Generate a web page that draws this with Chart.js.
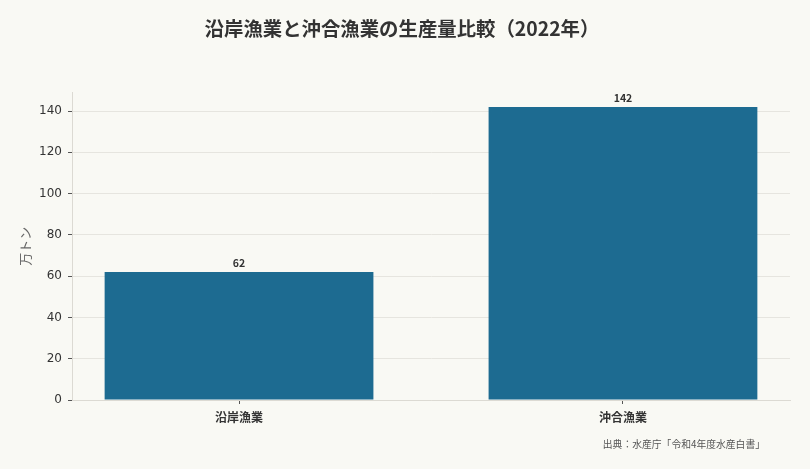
<!DOCTYPE html>
<html lang="ja">
<head>
<meta charset="utf-8">
<title>沿岸漁業と沖合漁業の生産量比較（2022年）</title>
<script src="https://cdn.jsdelivr.net/npm/chart.js@4"></script>
<style>
  html, body { margin: 0; padding: 0; background: #f9f9f4; }
  #wrap { width: 810px; height: 469px; }
</style>
</head>
<body>
<div id="wrap"><canvas id="chart"></canvas></div>
<script>
// 生産量（万トン）
const categories = ['沿岸漁業', '沖合漁業'];
const production = [62, 142];
const yTicks = [0, 20, 40, 60, 80, 100, 120, 140];

const JP = '"Noto Sans CJK JP", "DejaVu Sans", sans-serif';

// background + value labels + source note
const decorations = {
  id: 'decorations',
  beforeDraw(chart) {
    const ctx = chart.ctx;
    ctx.save();
    ctx.fillStyle = '#f9f9f4';
    ctx.fillRect(0, 0, chart.width, chart.height);
    ctx.restore();
  },
  afterDatasetsDraw(chart) {
    const ctx = chart.ctx;
    const meta = chart.getDatasetMeta(0);
    ctx.save();
    ctx.font = 'bold 10.5px ' + JP;
    ctx.fillStyle = '#333333';
    ctx.textAlign = 'center';
    ctx.textBaseline = 'bottom';
    meta.data.forEach((bar, i) => {
      ctx.fillText(String(production[i]), bar.x, bar.y - 4);
    });
    ctx.font = '9.8px ' + JP;
    ctx.fillStyle = '#555555';
    ctx.textAlign = 'right';
    ctx.textBaseline = 'middle';
    ctx.fillText('出典：水産庁「令和4年度水産白書」', chart.chartArea.right - 25, 444);
    ctx.restore();
  }
};

new Chart(document.getElementById('chart'), {
  type: 'bar',
  data: {
    datasets: [{
      data: production.map((v, i) => ({ x: i, y: v })),
      backgroundColor: '#1d6b91',
      borderWidth: 0,
      barPercentage: 0.7,
      categoryPercentage: 1.0
    }]
  },
  options: {
    responsive: true,
    maintainAspectRatio: false,
    animation: false,
    layout: { padding: { top: 0, left: 14, right: 20, bottom: 0 } },
    plugins: {
      legend: { display: false },
      tooltip: { enabled: false },
      title: {
        display: true,
        text: '沿岸漁業と沖合漁業の生産量比較（2022年）',
        color: '#333333',
        font: { family: JP, size: 19.4, weight: 'bold' },
        padding: { top: 17, bottom: 52 }
      }
    },
    scales: {
      x: {
        type: 'linear',
        offset: false,
        min: -0.435,
        max: 1.435,
        afterBuildTicks(scale) {
          scale.ticks = categories.map((c, i) => ({ value: i }));
        },
        afterFit(scale) { scale.height = 69; },
        ticks: {
          callback: (v) => categories[v] ?? '',
          color: '#333333',
          font: { family: JP, size: 12, weight: 'bold' },
          padding: 6,
          maxRotation: 0
        },
        grid: {
          offset: false,
          drawOnChartArea: false,
          drawTicks: true,
          tickLength: 4,
          tickColor: '#555555'
        },
        border: { display: true, color: '#dcdad3' }
      },
      y: {
        min: 0,
        max: 149.1,
        afterBuildTicks(scale) {
          scale.ticks = yTicks.map(v => ({ value: v }));
        },
        afterFit(scale) { scale.width = 58; },
        ticks: {
          color: '#333333',
          font: { family: '"DejaVu Sans", sans-serif', size: 12 },
          padding: 6
        },
        grid: {
          color: '#e6e5df',
          lineWidth: 1,
          tickLength: 4,
          tickColor: '#555555'
        },
        border: { display: true, color: '#dcdad3' },
        title: {
          display: true,
          text: '万トン',
          color: '#666666',
          font: { family: JP, size: 13 },
          padding: { top: 3, bottom: 4 }
        }
      }
    }
  },
  plugins: [decorations]
});
</script>
</body>
</html>
